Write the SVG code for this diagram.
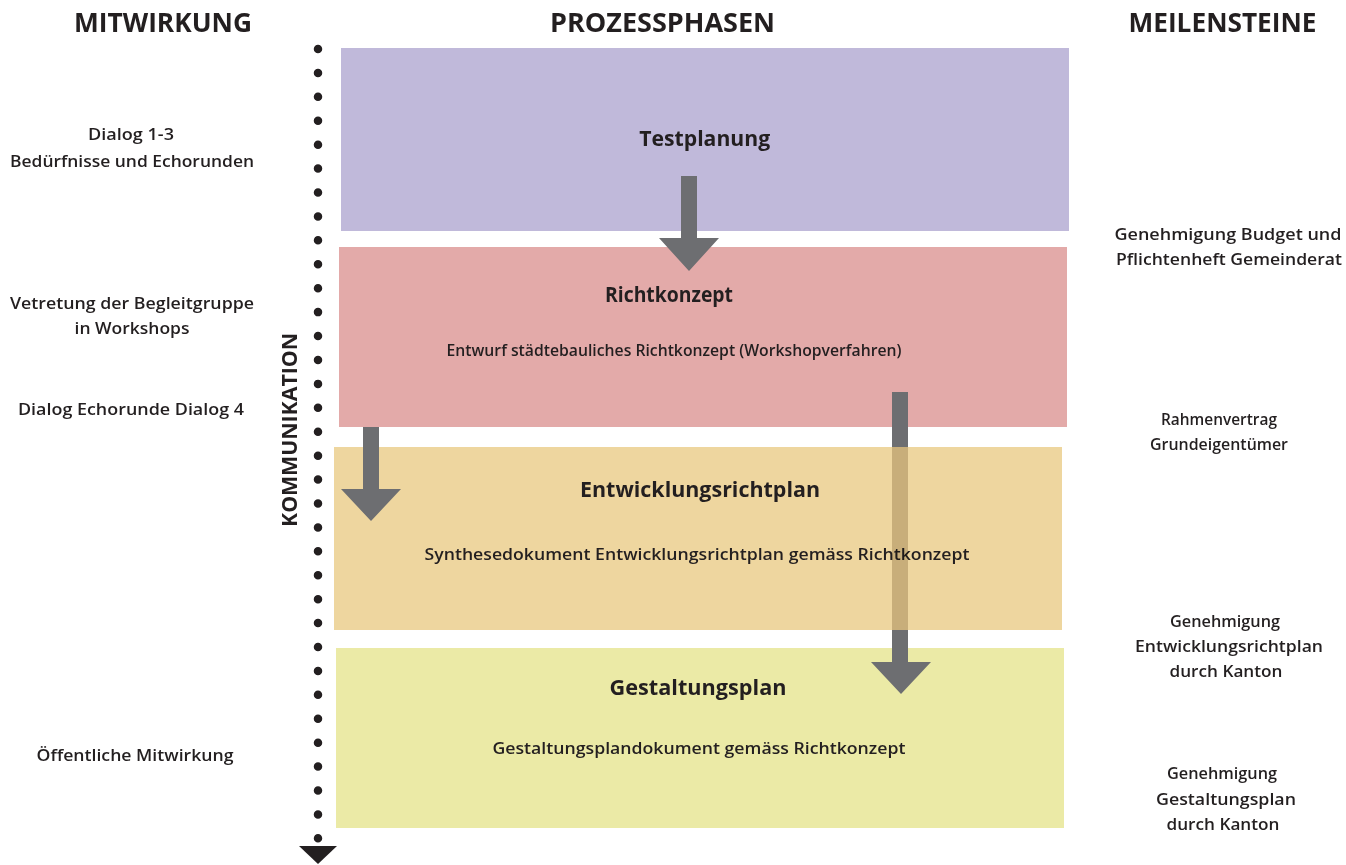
<svg xmlns="http://www.w3.org/2000/svg" width="1346" height="865" viewBox="0 0 1346 865">
<style>
text{font-family:"Open Sans","Liberation Sans",sans-serif;fill:#231f20;text-anchor:middle}
.h{font-size:27px;font-weight:700}
.t{font-size:21px;font-weight:700}
.s{font-size:17px;font-weight:600}
.arrow{fill:#6d6e71}
</style>
<rect width="1346" height="865" fill="#ffffff"/>
<g id="headers">
<text class="h" x="163" y="32" textLength="178" lengthAdjust="spacingAndGlyphs">MITWIRKUNG</text>
<text class="h" x="662.5" y="32" textLength="225" lengthAdjust="spacingAndGlyphs">PROZESSPHASEN</text>
<text class="h" x="1222.5" y="32" textLength="188" lengthAdjust="spacingAndGlyphs">MEILENSTEINE</text>
</g>
<g id="timeline">
<line x1="318" y1="49" x2="318" y2="838.5" stroke="#231f20" stroke-width="8.5" stroke-linecap="round" stroke-dasharray="0 23.92"/>
<polygon points="299,846 337,846 318,864" fill="#231f20"/>
<text class="t" transform="translate(297,430) rotate(-90)" x="0" y="0" textLength="194" lengthAdjust="spacingAndGlyphs" style="font-size:22px">KOMMUNIKATION</text>
</g>
<g id="testplanung">
<rect x="341" y="48" width="728" height="183" fill="#c0b9da"/>
<text class="t" x="704.7" y="146" textLength="131" lengthAdjust="spacingAndGlyphs">Testplanung</text>
</g>
<g id="richtkonzept">
<rect x="339" y="247" width="728" height="180" fill="#e3aaa9"/>
<text class="t" x="669" y="302" textLength="128" lengthAdjust="spacingAndGlyphs">Richtkonzept</text>
<text class="s" x="674" y="356" textLength="455" lengthAdjust="spacingAndGlyphs">Entwurf städtebauliches Richtkonzept (Workshopverfahren)</text>
</g>
<g id="entwicklungsrichtplan">
<rect x="334" y="447" width="728" height="183" fill="#eed69f"/>
<text class="t" x="700" y="497" textLength="240" lengthAdjust="spacingAndGlyphs">Entwicklungsrichtplan</text>
<text class="s" x="697" y="560" textLength="545" lengthAdjust="spacingAndGlyphs">Synthesedokument Entwicklungsrichtplan gemäss Richtkonzept</text>
</g>
<g id="gestaltungsplan">
<rect x="336" y="648" width="728" height="180" fill="#ebeaa6"/>
<text class="t" x="698" y="695" textLength="177" lengthAdjust="spacingAndGlyphs">Gestaltungsplan</text>
<text class="s" x="699" y="754" textLength="413" lengthAdjust="spacingAndGlyphs">Gestaltungsplandokument gemäss Richtkonzept</text>
</g>
<g id="connectors">
<polygon class="arrow" points="681,176 697,176 697,238 719,238 689,271 659,238 681,238"/>
<polygon class="arrow" points="363,427 379,427 379,489 401,489 371,521 341,489 363,489"/>
<rect class="arrow" x="892" y="392" width="16" height="55"/>
<rect x="892" y="447" width="16" height="183" fill="#d7d0c4" style="mix-blend-mode:multiply"/>
<polygon class="arrow" points="892,630 908,630 908,662 931,662 901,694 871,662 892,662"/>
</g>
<g id="mitwirkung">
<text class="s" x="131" y="140" textLength="86" lengthAdjust="spacingAndGlyphs">Dialog 1-3</text>
<text class="s" x="132" y="166.5" textLength="244" lengthAdjust="spacingAndGlyphs">Bedürfnisse und Echorunden</text>
<text class="s" x="132" y="309" textLength="244" lengthAdjust="spacingAndGlyphs">Vetretung der Begleitgruppe</text>
<text class="s" x="132" y="334" textLength="115" lengthAdjust="spacingAndGlyphs">in Workshops</text>
<text class="s" x="131" y="415" textLength="226" lengthAdjust="spacingAndGlyphs">Dialog Echorunde Dialog 4</text>
<text class="s" x="135" y="761" textLength="197" lengthAdjust="spacingAndGlyphs">Öffentliche Mitwirkung</text>
</g>
<g id="meilensteine">
<text class="s" x="1228" y="240" textLength="227" lengthAdjust="spacingAndGlyphs">Genehmigung Budget und</text>
<text class="s" x="1229" y="265" textLength="226" lengthAdjust="spacingAndGlyphs">Pflichtenheft Gemeinderat</text>
<text class="s" x="1219" y="425" textLength="116" lengthAdjust="spacingAndGlyphs">Rahmenvertrag</text>
<text class="s" x="1219" y="450" textLength="138" lengthAdjust="spacingAndGlyphs">Grundeigentümer</text>
<text class="s" x="1225" y="627" textLength="110" lengthAdjust="spacingAndGlyphs">Genehmigung</text>
<text class="s" x="1229" y="652" textLength="188" lengthAdjust="spacingAndGlyphs">Entwicklungsrichtplan</text>
<text class="s" x="1226" y="677" textLength="113" lengthAdjust="spacingAndGlyphs">durch Kanton</text>
<text class="s" x="1222" y="779" textLength="110" lengthAdjust="spacingAndGlyphs">Genehmigung</text>
<text class="s" x="1226" y="805" textLength="140" lengthAdjust="spacingAndGlyphs">Gestaltungsplan</text>
<text class="s" x="1223" y="830" textLength="113" lengthAdjust="spacingAndGlyphs">durch Kanton</text>
</g>
</svg>
